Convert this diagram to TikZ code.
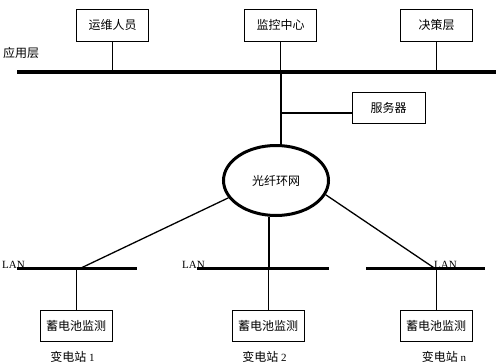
\documentclass[tikz,border=0pt]{standalone}
\usepackage{fontspec}
\setmainfont{Liberation Serif}
\newfontfamily\cjk{Noto Sans CJK SC}
\usetikzlibrary{shapes.geometric,calc}
\begin{document}
\begin{tikzpicture}[x=1pt,y=-1pt,
  box/.style={draw, line width=0.8pt, minimum width=72pt, minimum height=32pt, inner sep=0pt, font=\cjk\fontsize{12}{14}\selectfont},
  thin line/.style={line width=0.8pt},
  bus/.style={line width=4pt},
  lanbus/.style={line width=3.5pt},
  link/.style={line width=1.3pt},
  lab/.style={font=\cjk\fontsize{12}{14}\selectfont, inner sep=0pt},
  lanlab/.style={font=\fontsize{11}{13}\selectfont, inner sep=0pt, anchor=base west}]
\useasboundingbox[fill=white] (0,0) rectangle (496,364);
% top boxes
\node[box] (ops) at (112.5,25) {运维人员};
\node[box] (mon) at (280.5,25) {监控中心};
\node[box] (dec) at (436.5,25) {决策层};
\node[box, minimum width=73pt, minimum height=31pt] (srv) at (388.5,107.5) {服务器};
\node[lab] (app) at (21,53) {应用层};
% application bus
\coordinate (appL) at (17,71.5);
\coordinate (appR) at (496,71.5);
\draw[bus] (appL) -- (appR);
\draw[thin line] (ops.south) -- (ops.south |- appL);
\draw[thin line] (mon.south) -- (mon.south |- appL);
\draw[thin line] (dec.south) -- (dec.south |- appL);
% ring
\node[draw, ellipse, line width=3pt, minimum width=105pt, minimum height=70pt, inner sep=0pt, font=\cjk\fontsize{12}{14}\selectfont] (ring) at (276,180.5) {光纤环网};
\draw[line width=2pt] (mon.south |- appL) -- (mon.south |- ring.north);
\draw[line width=2pt] ($(srv.west)+(0,5.5)$) -- ($(srv.west -| mon.south)+(0,5.5)$);
% LAN buses
\coordinate (l1L) at (17,268.5); \coordinate (l1R) at (137,268.5);
\coordinate (l2L) at (197,268.5); \coordinate (l2R) at (329,268.5);
\coordinate (l3L) at (366,268.5); \coordinate (l3R) at (485,268.5);
\draw[lanbus] (l1L) -- (l1R);
\draw[lanbus] (l2L) -- (l2R);
\draw[lanbus] (l3L) -- (l3R);
\node[lanlab] (lan1) at (2,268) {LAN};
\node[lanlab] (lan2) at (182,268) {LAN};
\node[lanlab] (lan3) at (434,268) {LAN};
\coordinate (t1) at (80,268.5);
\coordinate (t2) at (269,268.5);
\coordinate (t3) at (435,268.5);
\draw[link] (ring.200) -- (t1);
\draw[link] (t2 |- ring.south) -- (t2);
\draw[link] (ring.344) -- (t3);
% stations
\node[box, minimum height=31pt] (st1) at (76,325.5) {蓄电池监测};
\node[box, minimum height=31pt] (st2) at (268,325.5) {蓄电池监测};
\node[box, minimum height=31pt] (st3) at (436,325.5) {蓄电池监测};
\draw[thin line] (st1.north |- l1L) -- (st1.north);
\draw[thin line] (st2.north |- l2L) -- (st2.north);
\draw[thin line] (st3.north |- l3L) -- (st3.north);
\node[inner sep=0pt, font=\fontsize{11}{13}\selectfont] (n1) at (72.5,357) {{\cjk\fontsize{12}{14}\selectfont 变电站} 1};
\node[inner sep=0pt, font=\fontsize{11}{13}\selectfont] (n2) at (264.5,357) {{\cjk\fontsize{12}{14}\selectfont 变电站} 2};
\node[inner sep=0pt, font=\fontsize{11}{13}\selectfont] (n3) at (444,357) {{\cjk\fontsize{12}{14}\selectfont 变电站} n};
\end{tikzpicture}
\end{document}
